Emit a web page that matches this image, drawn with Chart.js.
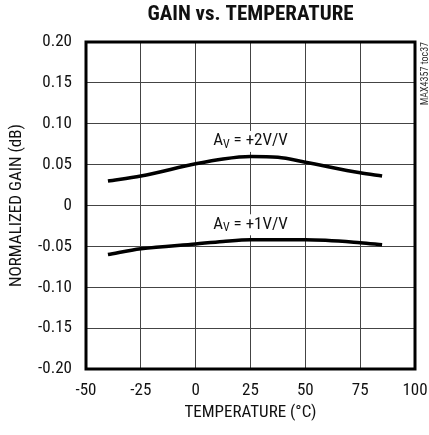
<!DOCTYPE html>
<html>
<head>
<meta charset="utf-8">
<script src="https://cdn.jsdelivr.net/npm/chart.js@4/dist/chart.umd.min.js"></script>
<style>
  html, body { margin: 0; padding: 0; background: #fff; }
  #wrap { width: 429px; height: 435px; }
</style>
</head>
<body>
<div id="wrap"><canvas id="gainChart" width="429" height="435"></canvas></div>
<script>
// temperature points (°C)
const temps = [-40, -25, 0, 12.5, 25, 37.5, 50, 75, 85];
// normalized gain (dB)
const gainAv2 = [0.030, 0.036, 0.051, 0.057, 0.060, 0.059, 0.053, 0.040, 0.036];
const gainAv1 = [-0.060, -0.053, -0.047, -0.044, -0.042, -0.042, -0.042, -0.0455, -0.048];
const curveLabels = [
  { main: 'A', sub: 'V', rest: ' = +2V/V', x: 25, y: 0.079 },
  { main: 'A', sub: 'V', rest: ' = +1V/V', x: 25, y: -0.023 }
];

const FONT = '"Liberation Sans Narrow", "Arial Narrow", "Roboto Condensed", "Liberation Sans", sans-serif';

function toPoints(xs, ys) {
  return xs.map((x, i) => ({ x: x, y: ys[i] }));
}

// draws title, axis titles, curve labels, frame and the side note
const textPlugin = {
  id: 'textPlugin',
  afterDraw(chart) {
    const ctx = chart.ctx;
    const area = chart.chartArea;
    const xs = chart.scales.x, ys = chart.scales.y;
    const midX = (area.left + area.right) / 2;
    ctx.save();
    ctx.fillStyle = '#111';

    // title
    ctx.font = 'bold 21px ' + FONT;
    ctx.textAlign = 'center';
    ctx.textBaseline = 'middle';
    ctx.fillText('GAIN vs. TEMPERATURE', midX, 15);

    // x axis title
    ctx.font = '17px ' + FONT;
    ctx.fillText('TEMPERATURE (°C)', midX, 413);

    // y axis title
    ctx.save();
    ctx.translate(17, (area.top + area.bottom) / 2);
    ctx.rotate(-Math.PI / 2);
    ctx.fillText('NORMALIZED GAIN (dB)', 0, 0);
    ctx.restore();

    // side note
    ctx.save();
    ctx.font = '10px ' + FONT;
    ctx.fillStyle = '#333';
    ctx.translate(425, area.top);
    ctx.rotate(-Math.PI / 2);
    ctx.textAlign = 'right';
    ctx.fillText('MAX4357 toc37', 0, 0);
    ctx.restore();

    // curve labels with subscript
    curveLabels.forEach(l => {
      const px = xs.getPixelForValue(l.x);
      const py = ys.getPixelForValue(l.y);
      ctx.font = '17px ' + FONT;
      const wMain = ctx.measureText(l.main).width;
      const wRest = ctx.measureText(l.rest).width;
      ctx.font = '12px ' + FONT;
      const wSub = ctx.measureText(l.sub).width;
      let x0 = px - (wMain + wSub + wRest) / 2;
      ctx.textAlign = 'left';
      ctx.fillStyle = '#fff';
      ctx.fillRect(x0 - 2, py - 10, wMain + wSub + wRest + 4, 21);
      ctx.fillStyle = '#111';
      ctx.font = '17px ' + FONT;
      ctx.fillText(l.main, x0, py);
      ctx.font = '12px ' + FONT;
      ctx.fillText(l.sub, x0 + wMain, py + 4);
      ctx.font = '17px ' + FONT;
      ctx.fillText(l.rest, x0 + wMain + wSub, py);
    });

    // frame
    ctx.strokeStyle = '#000';
    ctx.lineWidth = 3;
    ctx.strokeRect(area.left, area.top, area.right - area.left, area.bottom - area.top);
    ctx.restore();
  }
};

new Chart(document.getElementById('gainChart'), {
  type: 'scatter',
  data: {
    datasets: [
      {
        label: 'AV = +2V/V',
        data: toPoints(temps, gainAv2),
        showLine: true,
        borderColor: '#000',
        borderWidth: 3.5,
        pointRadius: 0,
        cubicInterpolationMode: 'monotone'
      },
      {
        label: 'AV = +1V/V',
        data: toPoints(temps, gainAv1),
        showLine: true,
        borderColor: '#000',
        borderWidth: 3.5,
        pointRadius: 0,
        cubicInterpolationMode: 'monotone'
      }
    ]
  },
  options: {
    responsive: false,
    animation: false,
    layout: { padding: { top: 42, right: 14, left: 0, bottom: 0 } },
    plugins: {
      legend: { display: false },
      tooltip: { enabled: false }
    },
    scales: {
      x: {
        type: 'linear',
        min: -50,
        max: 100,
        ticks: {
          stepSize: 25,
          padding: 12,
          color: '#111',
          font: { family: FONT, size: 17 }
        },
        grid: { color: '#444', lineWidth: 1, drawTicks: false },
        border: { display: false },
        afterFit(scale) {
          scale.height = 66;
          scale.paddingLeft = 0;
          scale.paddingRight = 0;
        }
      },
      y: {
        min: -0.2,
        max: 0.2,
        ticks: {
          stepSize: 0.05,
          padding: 14,
          color: '#111',
          font: { family: FONT, size: 17 },
          callback: v => Math.abs(v) < 1e-9 ? '0' : v.toFixed(2)
        },
        grid: { color: '#444', lineWidth: 1, drawTicks: false },
        border: { display: false },
        afterFit(scale) {
          scale.width = 86;
          scale.paddingTop = 0;
          scale.paddingBottom = 0;
        }
      }
    }
  },
  plugins: [textPlugin]
});
</script>
</body>
</html>
